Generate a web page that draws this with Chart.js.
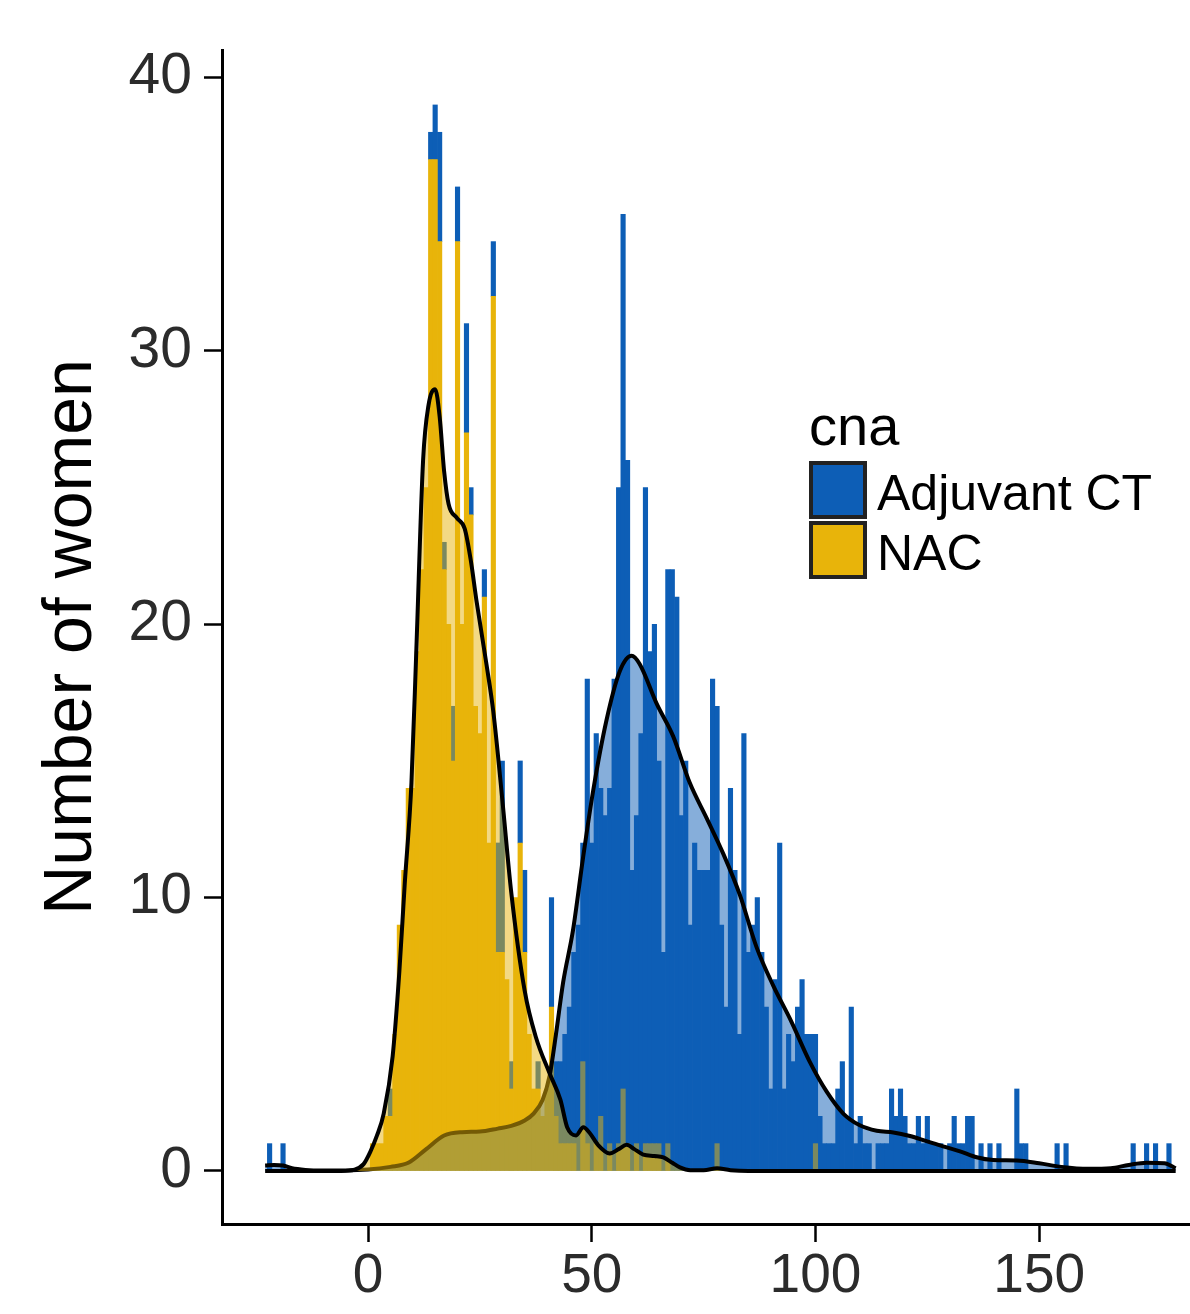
<!DOCTYPE html>
<html>
<head>
<meta charset="utf-8">
<title>Number of women by cna</title>
<script src="https://cdn.jsdelivr.net/npm/chart.js@4.4.1/dist/chart.umd.min.js"></script>
<style>
  html, body { margin: 0; padding: 0; background: #fff; }
  #wrap { width: 1190px; height: 1314px; }
</style>
</head>
<body>
<div id="wrap"><canvas id="histChart"></canvas></div>
<script>
// histogram counts, one bin per unit (only non-empty bins listed)
const nacBins = [1, 2, 3, 4, 5, 6, 7, 8, 9, 10, 11, 12, 13, 14, 15, 16, 17, 18, 19, 20,
  21, 22, 23, 24, 25, 26, 27, 28, 29, 30, 31, 32, 33, 34, 35, 36, 37, 38, 39, 40,
  41, 42, 43, 44, 45, 46, 48, 49, 51, 52, 54, 56, 57, 58, 60, 62, 63, 64, 65, 67, 78, 100];
const nacCounts = [1, 1, 1, 2, 2, 5, 9, 11, 14, 14, 19, 22, 25, 37, 37, 34, 22, 20, 15, 34,
  20, 27, 24, 17, 16, 21, 12, 32, 8, 8, 7, 3, 10, 12, 8, 5, 3, 3, 2, 3,
  6, 2, 1, 1, 1, 1, 4, 1, 1, 2, 1, 1, 3, 1, 1, 1, 1, 1, 1, 1, 1, 1];

const adjBins = [-22, -19, 5, 14, 15, 16, 17, 19, 20, 22, 23, 26, 28, 29, 30, 32, 34, 35, 38,
  41, 42, 43, 44, 45, 46, 47, 48, 49, 50,
  51, 52, 53, 54, 55, 56, 57, 58, 59, 60,
  61, 62, 63, 64, 65, 66, 67, 68, 69, 70,
  71, 72, 73, 74, 75, 76, 77, 78, 79, 80,
  81, 82, 83, 84, 85, 86, 87, 88, 89, 90,
  91, 92, 93, 94, 95, 96, 97, 98, 99, 100,
  101, 102, 103, 104, 105, 106, 107, 108, 109, 110,
  111, 112, 114, 115, 116, 117, 118, 119, 120,
  121, 122, 123, 124, 125, 126, 127, 128, 130,
  131, 132, 133, 134, 135, 137, 139, 141, 145, 146, 147, 154, 156, 171, 174, 176, 179];
const adjCounts = [1, 1, 1, 1, 2, 4, 1, 2, 2, 4, 1, 1, 2, 4, 7, 1, 3, 3, 1,
  4, 2, 3, 4, 5, 7, 9, 8, 17, 12,
  15, 12, 13, 13, 18, 24, 32, 25, 11, 12,
  16, 24, 18, 19, 14, 8, 21, 22, 21, 13,
  15, 9, 12, 11, 11, 11, 18, 16, 9, 6,
  14, 11, 5, 16, 8, 9, 10, 8, 6, 3,
  7, 12, 3, 5, 4, 6, 7, 5, 5, 4,
  2, 1, 1, 1, 3, 4, 2, 6, 1, 2,
  1, 1, 1, 1, 1, 3, 2, 3, 2,
  1, 1, 2, 1, 2, 1, 1, 1, 1,
  2, 1, 1, 2, 2, 1, 1, 1, 3, 1, 1, 1, 1, 1, 1, 1, 1];

// density curves, scaled to counts
const nacDensX = [-23, -6, -3, -1, 0.5, 2, 3.5, 5.5, 7, 8.2,
  9.7, 10.8, 12.3, 13.5, 15, 16, 17, 18, 19.8, 21.6,
  23, 24.2, 26.5, 28, 30, 32, 35, 37.5, 40.5, 43,
  44.5, 46.5, 48.1, 49.5, 51.4, 54, 56, 57.8, 59.5, 61.5,
  64, 66, 68, 69.7, 72, 75, 78, 81, 85, 180.5];
const nacDensY = [0, 0, 0.05, 0.25, 0.7, 1.3, 2.1, 4.2, 7.3, 10.5,
  14.2, 19.1, 26, 28, 28.6, 27.6, 25.6, 24.4, 23.9, 23.5,
  22.3, 20.9, 18.5, 16.8, 13.6, 10.2, 6.6, 4.9, 3.6, 2.6,
  1.6, 1.3, 1.6, 1.4, 0.95, 0.64, 0.8, 0.96, 0.8, 0.6,
  0.55, 0.5, 0.3, 0.13, 0.03, 0.03, 0.1, 0.03, 0, 0];

const adjDensX = [-23, -21, -19, -17, -14, -10, -5, 0, 5, 9,
  13, 17, 21, 25, 29, 32, 35, 37, 39, 40.6,
  42, 43.6, 45.8, 48, 50.3, 53.3, 56.3, 58.9, 60.7, 64.5,
  68.2, 71.9, 75.7, 79.4, 83.1, 86.8, 90.5, 94.5, 98.7, 102.5,
  106.2, 109.9, 113.7, 117.4, 121.1, 124.8, 128.5, 132.3, 136, 139.7,
  145, 150, 155, 161, 166, 170, 174, 178, 180.5];
const adjDensY = [0.2, 0.22, 0.2, 0.1, 0.04, 0.02, 0.02, 0.05, 0.15, 0.3,
  0.8, 1.3, 1.42, 1.44, 1.55, 1.65, 1.85, 2.1, 2.6, 3.5,
  5.0, 6.9, 8.8, 11.4, 13.9, 16.5, 18.3, 18.85, 18.55, 17.1,
  15.9, 14.2, 12.9, 11.6, 10.1, 8.2, 6.8, 5.5, 4.0, 2.9,
  2.1, 1.67, 1.47, 1.41, 1.28, 1.09, 0.9, 0.72, 0.5, 0.4,
  0.38, 0.28, 0.15, 0.08, 0.1, 0.22, 0.3, 0.28, 0.1];

const xTicks = [0, 50, 100, 150];
const yTicks = [0, 10, 20, 30, 40];
const legendTitle = "cna";
const groupLabels = ["Adjuvant CT", "NAC"];

const BLUE = "#0d5eb6";
const YELLOW = "#e8b40a";
const FONT = '"Liberation Sans", Arial, Helvetica, sans-serif';

const pairs = (xs, ys) => xs.map((x, i) => ({ x: x, y: ys[i] }));

// legend in the upper right of the panel, ggplot style
const keyLegend = {
  id: "keyLegend",
  afterDraw(chart) {
    const ctx = chart.ctx;
    const fills = [BLUE, YELLOW];
    ctx.save();
    ctx.fillStyle = "#000";
    ctx.textBaseline = "alphabetic";
    ctx.font = "56px " + FONT;
    ctx.fillText(legendTitle, 809, 445);
    ctx.font = "50px " + FONT;
    groupLabels.forEach((label, i) => {
      const top = 463 + i * 60;
      ctx.fillStyle = fills[i];
      ctx.fillRect(811, top, 54, 54);
      ctx.strokeStyle = "#222";
      ctx.lineWidth = 4;
      ctx.strokeRect(811, top, 54, 54);
      ctx.fillStyle = "#000";
      ctx.fillText(label, 877, top + 47);
    });
    ctx.restore();
  }
};

const densityLine = {
  type: "line",
  yAxisID: "yd",
  borderColor: "#000",
  borderWidth: 4,
  fill: "origin",
  pointRadius: 0,
  cubicInterpolationMode: "monotone"
};

new Chart(document.getElementById("histChart"), {
  data: {
    datasets: [
      {
        type: "bar",
        label: "NAC",
        data: pairs(nacBins, nacCounts),
        backgroundColor: YELLOW,
        barPercentage: 1,
        categoryPercentage: 1,
        order: 3
      },
      {
        type: "bar",
        label: "Adjuvant CT",
        data: pairs(adjBins, adjCounts),
        backgroundColor: BLUE,
        barPercentage: 1,
        categoryPercentage: 1,
        order: 3
      },
      Object.assign({}, densityLine, {
        label: "Adjuvant CT density",
        data: pairs(adjDensX, adjDensY),
        backgroundColor: "rgba(13, 94, 182, 0.5)",
        order: 2
      }),
      Object.assign({}, densityLine, {
        label: "NAC density",
        data: pairs(nacDensX, nacDensY),
        backgroundColor: "rgba(232, 180, 10, 0.5)",
        order: 1
      })
    ]
  },
  options: {
    responsive: true,
    maintainAspectRatio: false,
    animation: false,
    layout: { padding: { top: 50, right: 0, bottom: 0, left: 0 } },
    scales: {
      x: {
        type: "linear",
        min: -32.64,
        max: 183.7,
        offset: false,
        stacked: true,
        afterBuildTicks: s => { s.ticks = xTicks.map(v => ({ value: v })); },
        afterFit: s => { s.height = 90; },
        grid: { offset: false, drawOnChartArea: false, tickLength: 18, tickWidth: 2.5, tickColor: "#000" },
        border: { display: true, color: "#000", width: 3 },
        ticks: {
          autoSkip: false,
          maxRotation: 0,
          padding: 2,
          color: "#2b2b2b",
          font: { family: FONT, size: 55 }
        }
      },
      y: {
        min: -1.94,
        max: 41.01,
        stacked: true,
        afterBuildTicks: s => { s.ticks = yTicks.map(v => ({ value: v })); },
        afterFit: s => { s.width = 222; },
        grid: { drawOnChartArea: false, tickLength: 18, tickWidth: 2.5, tickColor: "#000" },
        border: { display: true, color: "#000", width: 3 },
        ticks: {
          padding: 12,
          color: "#2b2b2b",
          font: { family: FONT, size: 57 }
        },
        title: {
          display: true,
          text: "Number of women",
          color: "#000",
          font: { family: FONT, size: 68 },
          padding: { top: 31, bottom: 0 }
        }
      },
      yd: {
        display: false,
        min: -1.94,
        max: 41.01
      }
    },
    plugins: {
      legend: { display: false },
      tooltip: { enabled: false }
    }
  },
  plugins: [keyLegend]
});
</script>
</body>
</html>
